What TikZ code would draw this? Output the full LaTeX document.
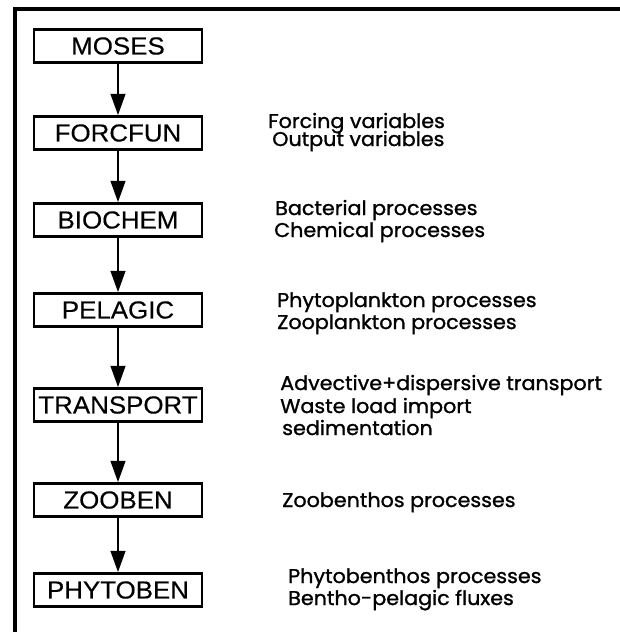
\documentclass[tikz,border=0pt]{standalone}
\usepackage{fontspec}
\usetikzlibrary{arrows.meta}
\newfontfamily\boxfont[FakeStretch=1.05,FakeBold=0.3]{Liberation Sans}
\newfontfamily\labfont[FakeBold=1.2,FakeStretch=1.04]{Poppins}
\begin{document}
\begin{tikzpicture}[x=0.75pt,y=-0.75pt,
  mbox/.style={draw,line width=1.8pt,minimum width=126pt,minimum height=25pt,inner sep=0pt,font=\boxfont\fontsize{18.5}{18.5}\selectfont},
  lab/.style={anchor=base west,inner sep=0pt,font=\labfont\fontsize{14.9}{14.9}\selectfont},
  flow/.style={line width=1.8pt,-{Triangle[width=11pt,length=16pt]}}]
\useasboundingbox (0,0) rectangle (620,632);
\draw[line width=2.5pt] (620,9) -- (15,9) -- (15,632);
\node[mbox] (moses) at (118,46) {MOSES};
\node[mbox] (forc) at (118,133) {FORCFUN};
\node[mbox] (bio) at (118,220) {BIOCHEM};
\node[mbox] (pel) at (118,310) {PELAGIC};
\node[mbox] (tra) at (118,405) {TRANSPORT};
\node[mbox] (zoo) at (118,500) {ZOOBEN};
\node[mbox] (phy) at (118,590) {PHYTOBEN};
\draw[flow] (moses) -- (forc);
\draw[flow] (forc) -- (bio);
\draw[flow] (bio) -- (pel);
\draw[flow] (pel) -- (tra);
\draw[flow] (tra) -- (zoo);
\draw[flow] (zoo) -- (phy);
\node[lab] (l1) at (268,128) {Forcing variables};
\node[lab] (l2) at (272,146) {Output variables};
\node[lab] (l3) at (275,215) {Bacterial processes};
\node[lab] (l4) at (274,237) {Chemical processes};
\node[lab] (l5) at (277,307) {Phytoplankton processes};
\node[lab] (l6) at (277,329) {Zooplankton processes};
\node[lab] (l7) at (280,390) {Advective+dispersive transport};
\node[lab] (l8) at (280,413) {Waste load import};
\node[lab] (l9) at (282,435) {sedimentation};
\node[lab] (l10) at (282,507) {Zoobenthos processes};
\node[lab] (l11) at (288,583) {Phytobenthos processes};
\node[lab] (l12) at (288,605) {Bentho-pelagic fluxes};
\end{tikzpicture}
\end{document}
